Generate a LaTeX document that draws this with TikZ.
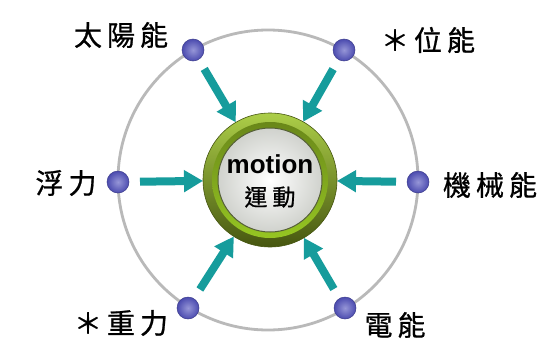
\documentclass[tikz,border=0pt]{standalone}
\usepackage{fontspec}
\setmainfont{Liberation Sans}
\newfontfamily\cjk[FakeBold=0.8]{Noto Sans CJK TC}
\usetikzlibrary{arrows.meta,shadings}
\definecolor{flowteal}{RGB}{22,156,156}
\definecolor{ringgray}{RGB}{185,185,185}
\definecolor{dotin}{RGB}{150,150,215}
\definecolor{dotout}{RGB}{75,75,175}
\definecolor{greenlight}{RGB}{172,206,72}
\definecolor{greendark}{RGB}{70,86,16}
\definecolor{bevelA}{RGB}{105,135,25}
\definecolor{bevelB}{RGB}{150,198,34}
\definecolor{facegray}{RGB}{208,210,205}
\definecolor{faceedge}{RGB}{85,95,55}
\tikzset{
  dotball/.style={circle, minimum size=22pt, inner sep=0pt, outer sep=0pt, inner color=dotin, outer color=dotout, draw=dotout!80!black, line width=0.5pt},
  lbl/.style={inner sep=0pt, font=\cjk\fontsize{28}{30}\selectfont, text=black},
  flow/.style={draw=flowteal, line width=8pt, -{Triangle[length=19pt,width=21pt]}, shorten <=11pt},
}
\newcommand{\gp}{\hspace{5pt}}
\begin{document}
\begin{tikzpicture}[x=1pt,y=-1pt]
\useasboundingbox (0,0) rectangle (540,340);
\fill[white] (0,0) rectangle (540,340);
% big gray ring
\draw[ringgray, line width=2.8pt] (268,180) circle (150pt);
% central button
\node[circle, minimum size=134pt, inner sep=0pt, outer sep=0pt, top color=greenlight, bottom color=greendark, draw=greendark, line width=0.6pt] (btn) at (270,180) {};
\shade[top color=bevelA, bottom color=bevelB] (btn.center) circle (58pt);
\shade[inner color=white, outer color=facegray] (btn.center) circle (52pt);
\draw[faceedge, line width=1pt] (btn.center) circle (52pt);
\node[inner sep=0pt, font=\bfseries\fontsize{26}{28}\selectfont] (mot) at (270,164) {motion};
\node[inner sep=0pt, font=\cjk\fontsize{23}{25}\selectfont] (yd) at (270,197) {運\hspace{5pt}動};
% dots
\node[dotball] (dA) at (193,50) {};
\node[dotball] (dB) at (344,50) {};
\node[dotball] (dC) at (118,182) {};
\node[dotball] (dD) at (418,182) {};
\node[dotball] (dE) at (188,308) {};
\node[dotball] (dF) at (345,308) {};
% arrows
\draw[flow] (dA) -- (btn);
\draw[flow] (dB) -- (btn);
\draw[flow] (dC) -- (btn);
\draw[flow] (dD) -- (btn);
\draw[flow] (dE) -- (btn);
\draw[flow] (dF) -- (btn);
% labels
\node[lbl] (lA) at (121,35) {太\gp 陽\gp 能};
\node[lbl] (lB) at (428,40) {＊\gp 位\gp 能};
\node[lbl] (lC) at (66,183) {浮\gp 力};
\node[lbl] (lD) at (490,185) {機\gp 械\gp 能};
\node[lbl] (lE) at (121,323) {＊\gp 重\gp 力};
\node[lbl] (lF) at (395,325) {電\gp 能};
\end{tikzpicture}
\end{document}
